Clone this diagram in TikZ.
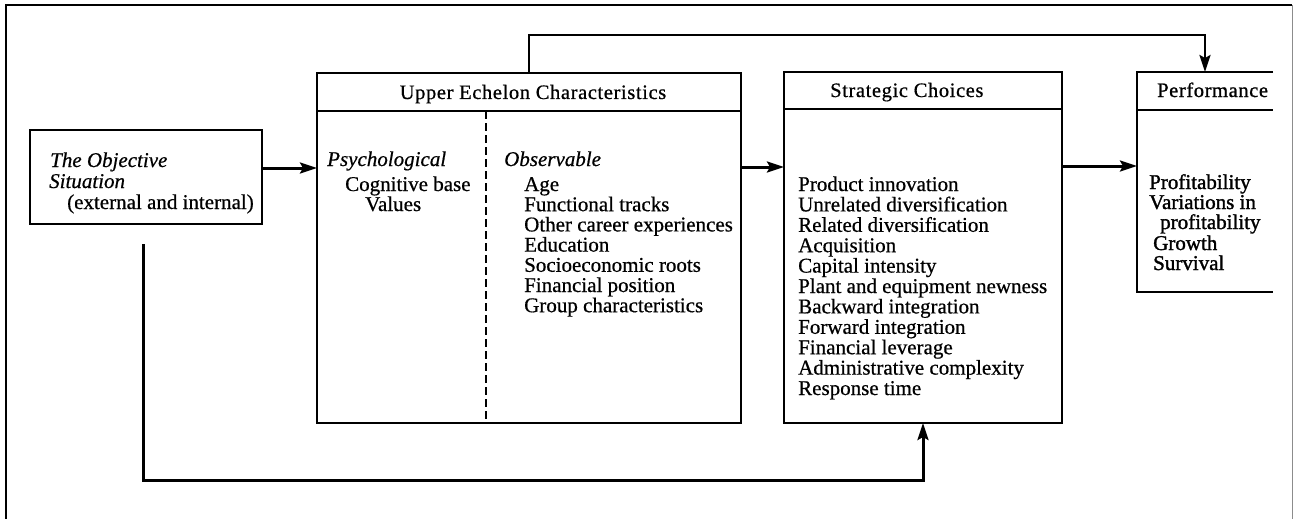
\documentclass[tikz,border=0pt]{standalone}
\usepackage{fontspec}
\setmainfont{Liberation Serif}[FakeBold=0.6]
\usetikzlibrary{arrows.meta}
\begin{document}
\begin{tikzpicture}[x=1pt,y=-1pt,
  box/.style={draw, line width=1.5pt, inner sep=0pt, outer sep=0pt, rectangle},
  conn/.style={line width=3pt},
  arr/.style={conn, -{Stealth[length=17pt,width=11pt,inset=3pt]}},
  frame/.style={line width=2.4pt},
  txt/.style={font=\fontsize{21}{24}\selectfont, inner sep=0pt, anchor=base west},
  itx/.style={txt, font=\fontsize{21}{24}\selectfont\itshape},
  ttl/.style={txt, font=\fontsize{20.5}{24}\selectfont\addfontfeature{LetterSpace=3}},
  pft/.style={txt, font=\fontsize{21}{24}\selectfont\addfontfeature{FakeBold=1.4}},
  dashsep/.style={line width=1.8pt, dash pattern=on 8pt off 4pt}
]
\useasboundingbox (0,0) rectangle (1293,519);
% outer frame (bottom edge cut off)
\coordinate (fTL) at (6,5);
\coordinate (fTR) at (1292,5);
\coordinate (fBL) at (6,519);
\coordinate (fBR) at (1292,519);
\draw[frame] (fBL) -- (fTL) -- (fTR);
\draw[line width=1pt, black!45] (fTR) -- (fBR);

% boxes
\node[box, minimum width=232pt, minimum height=94pt] (obj) at (146,177) {};
\node[box, minimum width=424pt, minimum height=38pt] (uehead) at (529,92) {};
\node[box, minimum width=424pt, minimum height=312pt] (uebody) at (529,267) {};
\node[box, minimum width=278pt, minimum height=37pt] (schead) at (923,90.5) {};
\node[box, minimum width=278pt, minimum height=314pt] (scbody) at (923,266) {};
\node[inner sep=0pt, outer sep=0pt, minimum width=136pt, minimum height=38pt] (perfhead) at (1205,91) {};
\node[inner sep=0pt, outer sep=0pt, minimum width=136pt, minimum height=182pt] (perfbody) at (1205,201) {};
\draw[line width=1.5pt] (perfhead.north east) -- (perfhead.north west) -- (perfbody.south west) -- (perfbody.south east);
\draw[line width=1.5pt] (perfhead.south west) -- (perfhead.south east);

% dashed separator
\coordinate (dx) at (486,0);
\draw[dashsep] (uebody.north -| dx) -- (uebody.south -| dx);

% titles
\node[ttl, anchor=base] (uetitle) at (533,99) {Upper Echelon Characteristics};
\node[ttl] (sctitle) at (830,97) {Strategic Choices};
\node[ttl] (perftitle) at (1157,97) {\addfontfeature{FakeBold=1}Performance};

% objective situation
\node[itx] (obj1) at (50,167) {The Objective};
\node[itx] (obj2) at (49,188) {Situation};
\node[txt] (obj3) at (67,209) {(external and internal)};

% psychological
\node[itx] (psy) at (327,166) {Psychological};
\node[txt] (psy1) at (345,191) {Cognitive base};
\node[txt] (psy2) at (365,211) {Values};

% observable
\node[itx] (obs) at (504,166) {Observable};
\foreach \t [count=\i] in {Age, Functional tracks, Other career experiences, Education, Socioeconomic roots, Financial position, Group characteristics}
  \node[txt] (obs\i) at (524,{191+20.2*(\i-1)}) {\t};

% strategic choices
\foreach \t [count=\i] in {Product innovation, Unrelated diversification, Related diversification, Acquisition, Capital intensity, Plant and equipment newness, Backward integration, Forward integration, Financial leverage, Administrative complexity, Response time}
  \node[txt] (sc\i) at (798,{191+20.4*(\i-1)}) {\t};

% performance
\node[pft] (pf1) at (1149,189) {Profitability};
\node[pft] (pf2) at (1149,209) {Variations in};
\node[pft] (pf3) at (1160,229) {profitability};
\node[pft] (pf4) at (1153,250) {Growth};
\node[pft] (pf5) at (1153,270) {Survival};

% connectors
\coordinate (y1) at (0,168);
\coordinate (y2) at (0,167);
\coordinate (y3) at (0,166);
\draw[arr] (obj.east |- y1) -- (uebody.west |- y1);
\draw[arr] (uebody.east |- y2) -- (scbody.west |- y2);
\draw[arr] (scbody.east |- y3) -- (perfbody.west |- y3);

\coordinate (ytop) at (0,35);
\draw[arr, line width=2.6pt] (uehead.north) -- (uehead.north |- ytop) -- (perfhead.north |- ytop) -- (perfhead.north);

\coordinate (fb) at (143,244);
\coordinate (fbend) at (143,480);
\draw[arr] (fb) -- (fbend) -- (fbend -| scbody.south) -- (scbody.south);
\end{tikzpicture}
\end{document}
